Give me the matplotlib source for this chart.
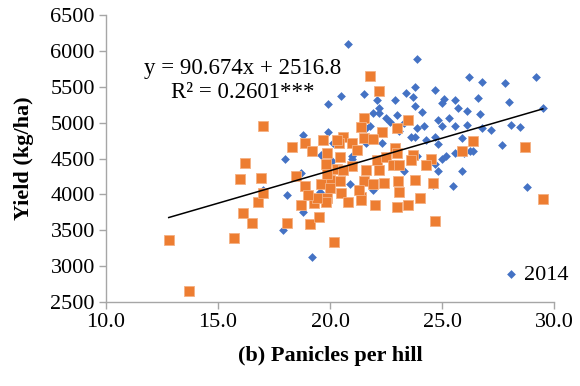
import numpy as np
import matplotlib
matplotlib.use('Agg')
import matplotlib.pyplot as plt

plt.rcParams['font.family'] = ['Liberation Serif', 'DejaVu Serif']

# 2014 (blue diamonds): panicles per hill, yield (kg/ha)
x2014 = [20.8, 23.9, 26.2, 26.8, 27.8, 29.2, 19.9, 20.5, 21.5, 22.1,
         22.2, 21.9, 22.9, 23.4, 23.8, 23.7, 23.8, 24.1, 24.7, 25.1,
         25.0, 25.6, 25.7, 26.1, 26.6, 26.7, 28.0, 29.5, 23.0, 22.5,
         22.7, 23.1, 21.8, 19.9, 24.8, 25.3, 25.0, 25.6, 26.1, 26.8,
         27.2, 28.1, 28.5, 23.9, 24.2, 23.6, 23.8, 24.3, 24.7, 24.8,
         25.9, 27.7, 22.3, 21.0, 25.2, 25.0, 25.6, 26.25, 26.4, 25.9,
         24.7, 24.8, 24.6, 23.3, 20.9, 28.8, 21.9, 18.1, 17.9, 18.8,
         19.2, 19.55, 19.9, 17.0, 18.0, 18.8, 20.15, 18.7, 19.6, 20.1,
         20.3, 21.0, 21.6, 21.6, 22.2, 23.3, 23.9, 25.5, 26.0, 19.85]
y2014 = [6090, 5880, 5640, 5570, 5550, 5640, 5260, 5370, 5400, 5320,
         5200, 5130, 5320, 5410, 5490, 5360, 5230, 5150, 5450, 5330,
         5280, 5310, 5210, 5160, 5350, 5120, 5290, 5200, 5110, 5060,
         5010, 4880, 4950, 4870, 5030, 5070, 4960, 4950, 4970, 4930,
         4900, 4970, 4940, 4930, 4950, 4800, 4800, 4760, 4800, 4700,
         4790, 4690, 4710, 4530, 4530, 4500, 4570, 4600, 4600, 4330,
         4430, 4320, 4130, 4320, 4150, 4100, 4060, 3990, 3500, 3760,
         3130, 4040, 4130, 4060, 4490, 4830, 4710, 4300, 4550, 4460,
         4180, 4500, 4920, 4710, 5130, 4990, 4530, 4110, 4570, 4570]

# 2015 (orange squares)
x2015 = [21.8, 22.2, 21.5, 21.4, 23.5, 23.0, 22.3, 26.4, 28.7, 25.9,
         29.5, 19.7, 20.6, 20.4, 21.0, 21.5, 21.9, 21.2, 19.85, 20.45,
         22.9, 23.0, 23.7, 23.6, 24.5, 24.3, 22.1, 22.5, 19.8, 20.3,
         21.0, 21.6, 22.2, 22.8, 23.1, 20.0, 20.45, 21.5, 21.9, 22.4,
         23.05, 23.8, 24.6, 23.1, 20.5, 21.4, 24.0, 19.85, 19.8, 20.8,
         22.0, 23.0, 23.5, 24.7, 20.2, 12.8, 13.7, 15.7, 16.1, 16.5,
         16.8, 17.0, 18.1, 18.7, 19.1, 19.5, 19.3, 18.9, 17.0, 16.2,
         16.0, 16.9, 18.3, 18.9, 19.2, 18.5, 19.6, 20.0, 19.4, 20.6,
         21.3, 19.0, 21.4, 19.85, 20.3]
y2015 = [5650, 5440, 5070, 4935, 5030, 4920, 4870, 4750, 4660, 4600,
         3940, 4760, 4800, 4720, 4710, 4780, 4770, 4620, 4570, 4525,
         4640, 4570, 4550, 4480, 4500, 4410, 4480, 4525, 4430, 4360,
         4390, 4340, 4340, 4410, 4410, 4200, 4180, 4180, 4150, 4160,
         4180, 4200, 4160, 4040, 4015, 3970, 3950, 3950, 3900, 3900,
         3850, 3820, 3850, 3625, 3340, 3365, 2660, 3390, 3740, 3600,
         3900, 4020, 3600, 3850, 3590, 3690, 3880, 4110, 4950, 4440,
         4220, 4230, 4660, 4710, 4610, 4250, 4150, 4085, 3950, 4340,
         4060, 3990, 3920, 4290, 4760]

# linear trend (both years pooled)
slope = 90.674
intercept = 2516.8
eq_text = 'y = 90.674x + 2516.8\nR² = 0.2601***'

fig = plt.figure(figsize=(5.8, 3.86), dpi=100)
ax = fig.add_axes([0.1828, 0.2176, 0.7724, 0.7435])

ax.scatter(x2014, y2014, marker='D', s=20, color='#4472C4', linewidths=0,
           label='2014', zorder=2)
ax.scatter(x2015, y2015, marker='s', s=50, color='#ED7D31',
           edgecolors='#F4B183', linewidths=0.6, zorder=3)

xall = np.array(x2014 + x2015)
xl = np.array([xall.min(), xall.max()])
ax.plot(xl, slope * xl + intercept, color='black', lw=1.1, zorder=4)

ax.text(0.305, 0.772, eq_text, transform=ax.transAxes, ha='center',
        va='center', fontsize=16.5, linespacing=1.15, zorder=5)

ax.set_xlim(10, 30)
ax.set_ylim(2500, 6500)
ax.set_xticks(np.arange(10, 30.1, 5))
ax.set_xticklabels(['%.1f' % v for v in np.arange(10, 30.1, 5)])
ax.set_yticks(np.arange(2500, 6501, 500))

for s in ['top', 'right']:
    ax.spines[s].set_visible(False)
for s in ['left', 'bottom']:
    ax.spines[s].set_color('#A6A6A6')
    ax.spines[s].set_linewidth(1.0)
ax.tick_params(axis='both', colors='#A6A6A6', labelcolor='black',
               labelsize=16, length=5, width=1.0, pad=3)

ax.set_xlabel('(b) Panicles per hill', fontsize=16, fontweight='bold',
              labelpad=10)
ax.set_ylabel('Yield (kg/ha)', fontsize=16, fontweight='bold', labelpad=12)

ax.legend(loc='center left', bbox_to_anchor=(0.888, 0.094), frameon=False,
          fontsize=16, handlelength=0.6, handletextpad=0.3, borderpad=0,
          borderaxespad=0, scatterpoints=1)

fig.savefig('out.png', dpi=100)
